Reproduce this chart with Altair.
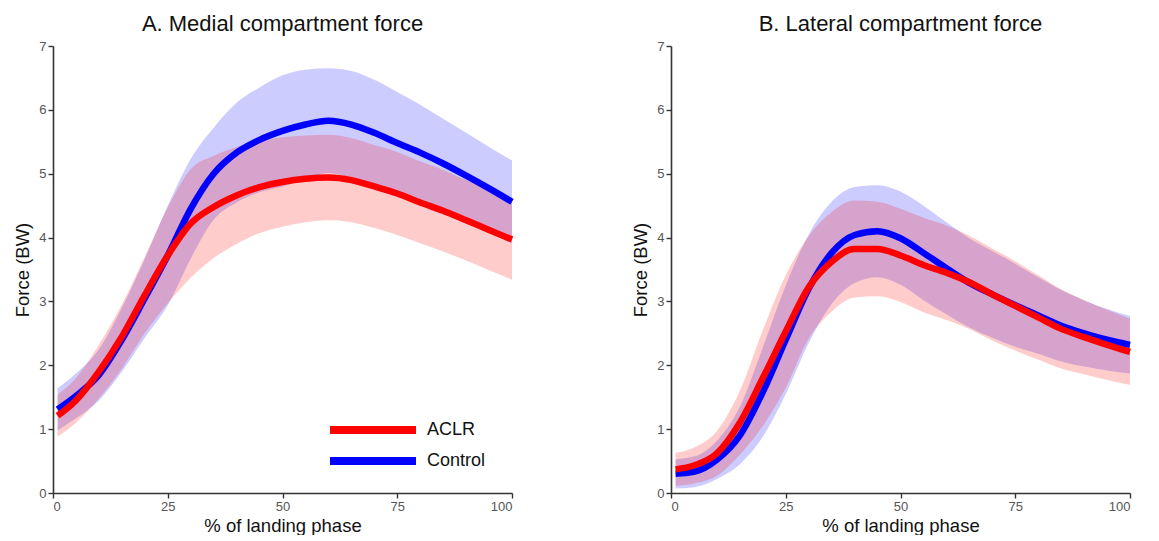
import altair as alt
import pandas as pd

pct = [1, 5, 10, 15, 20, 25, 30, 35, 40, 45, 50, 55, 60, 65, 70, 75, 80, 85, 90, 95, 100]

# Medial compartment force (BW)
med_aclr_mean = [1.21, 1.45, 1.90, 2.45, 3.10, 3.72, 4.22, 4.48, 4.66, 4.79, 4.87, 4.92, 4.94, 4.90, 4.80, 4.69, 4.55, 4.42, 4.27, 4.12, 3.97]
med_aclr_sd = [0.33, 0.35, 0.42, 0.50, 0.60, 0.75, 0.85, 0.80, 0.76, 0.72, 0.70, 0.68, 0.67, 0.66, 0.65, 0.65, 0.64, 0.64, 0.63, 0.63, 0.63]
med_ctrl_mean = [1.31, 1.52, 1.85, 2.40, 3.05, 3.72, 4.45, 5.00, 5.33, 5.53, 5.67, 5.77, 5.83, 5.77, 5.64, 5.48, 5.33, 5.16, 4.97, 4.77, 4.56]
med_ctrl_sd = [0.33, 0.35, 0.40, 0.50, 0.62, 0.78, 0.78, 0.72, 0.78, 0.82, 0.87, 0.86, 0.82, 0.84, 0.83, 0.80, 0.75, 0.70, 0.67, 0.65, 0.65]

# Lateral compartment force (BW)
lat_aclr_mean = [0.37, 0.43, 0.62, 1.10, 1.80, 2.53, 3.22, 3.62, 3.82, 3.82, 3.72, 3.57, 3.45, 3.30, 3.11, 2.93, 2.75, 2.57, 2.44, 2.32, 2.21]
lat_aclr_sd = [0.26, 0.28, 0.35, 0.50, 0.75, 0.88, 0.80, 0.78, 0.76, 0.74, 0.73, 0.74, 0.74, 0.73, 0.72, 0.70, 0.66, 0.62, 0.58, 0.55, 0.52]
lat_ctrl_mean = [0.30, 0.33, 0.52, 0.90, 1.58, 2.40, 3.20, 3.76, 4.04, 4.10, 3.99, 3.76, 3.52, 3.29, 3.11, 2.94, 2.78, 2.62, 2.50, 2.40, 2.32]
lat_ctrl_sd = [0.23, 0.24, 0.30, 0.45, 0.70, 0.85, 0.85, 0.80, 0.75, 0.72, 0.73, 0.74, 0.72, 0.70, 0.68, 0.65, 0.60, 0.56, 0.52, 0.48, 0.45]

groups = ["ACLR", "Control"]
colors = ["#ff0000", "#0000ff"]
x_ticks = [0, 25, 50, 75, 100]
y_ticks = [0, 1, 2, 3, 4, 5, 6, 7]


def make_df(group, mean, sd):
    return pd.DataFrame({
        "pct": pct,
        "mean": mean,
        "lo": [m - s for m, s in zip(mean, sd)],
        "hi": [m + s for m, s in zip(mean, sd)],
        "group": group,
    })


FONT = "Liberation Sans"

legend = alt.Legend(
    title=None, orient="none", legendX=305, legendY=369,
    symbolType="M -4 0 L 4 0", symbolSize=462, symbolStrokeWidth=8,
    symbolOpacity=1, labelFontSize=18, labelFont=FONT,
    labelColor="#111", labelOffset=39, rowPadding=-2,
)
stroke = alt.Stroke("group:N", scale=alt.Scale(domain=groups, range=colors), legend=legend)


def panel(df, title):
    base = alt.Chart(df)
    xenc = alt.X("pct:Q", scale=alt.Scale(domain=[0, 100], nice=False),
                 axis=alt.Axis(values=x_ticks, title="% of landing phase"))
    yscale = alt.Scale(domain=[0, 7], nice=False)
    yaxis = alt.Axis(values=y_ticks, title="Force (BW)")

    def band(g, c):
        return base.transform_filter(alt.datum.group == g).mark_area(
            opacity=0.2, interpolate="monotone", color=c
        ).encode(
            x=xenc,
            y=alt.Y("lo:Q", scale=yscale, axis=yaxis),
            y2="hi:Q",
        )

    def line(g):
        return base.transform_filter(alt.datum.group == g).mark_line(
            strokeWidth=6.5, interpolate="monotone"
        ).encode(
            x=xenc,
            y=alt.Y("mean:Q", scale=yscale, axis=yaxis),
            stroke=stroke,
        )

    return alt.layer(
        band("Control", colors[1]), band("ACLR", colors[0]), line("Control"), line("ACLR")
    ).properties(
        width=459, height=447,
        title=alt.TitleParams(title, fontSize=22, font=FONT, fontWeight="normal",
                              color="#111", anchor="middle", offset=4),
    )


med = pd.concat([make_df("ACLR", med_aclr_mean, med_aclr_sd),
                 make_df("Control", med_ctrl_mean, med_ctrl_sd)], ignore_index=True)
lat = pd.concat([make_df("ACLR", lat_aclr_mean, lat_aclr_sd),
                 make_df("Control", lat_ctrl_mean, lat_ctrl_sd)], ignore_index=True)

chart = alt.hconcat(
    panel(med, "A. Medial compartment force"),
    panel(lat, "B. Lateral compartment force"),
    spacing=106,
).configure_view(
    stroke=None
).configure_axis(
    grid=False,
    domainColor="#333",
    domainWidth=1.6,
    tickColor="#333",
    tickWidth=1.4,
    tickSize=5,
    labelColor="#555",
    labelFont=FONT,
    labelFontSize=13,
    labelPadding=2,
    titleFont=FONT,
    titleFontSize=18.5,
    titleFontWeight="normal",
    titleColor="#111",
).configure_axisY(
    titlePadding=6,
).configure_axisX(
    titlePadding=3,
).properties(
    padding={"left": 5, "top": 5, "right": 5, "bottom": 0},
)

chart.save("out.html", embed_options={"renderer": "svg", "actions": False})
